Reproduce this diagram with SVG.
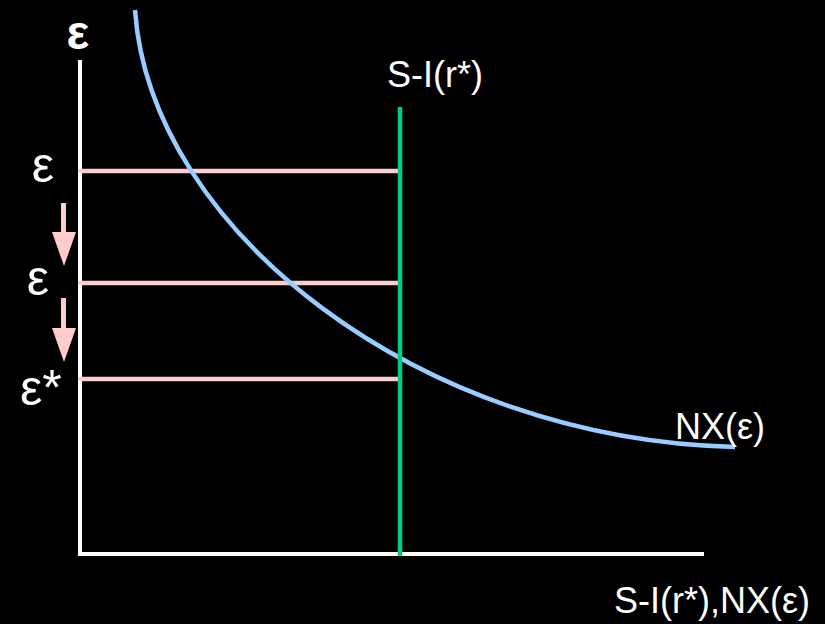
<svg xmlns="http://www.w3.org/2000/svg" width="825" height="624" viewBox="0 0 825 624">
<style>
.lbl{font-family:"Liberation Sans",Arial,sans-serif;fill:#ffffff}
.axis{stroke:#ffffff;stroke-width:4;fill:none}
.lvl{stroke:#ffcccc;stroke-width:4.5;stroke-linecap:round;fill:none}
.arr{fill:#ffcccc}
</style>
<rect width="825" height="624" fill="#000000"/>
<g id="axes">
<line class="axis" x1="80" y1="60" x2="80" y2="556"/>
<line class="axis" x1="78" y1="554" x2="704" y2="554"/>
</g>
<g id="connectors">
<line class="lvl" x1="80" y1="171" x2="400" y2="171"/>
<line class="lvl" x1="80" y1="283" x2="400" y2="283"/>
<line class="lvl" x1="80" y1="379" x2="400" y2="379"/>
</g>
<g id="nx-curve">
<path d="M135,10 C150,230 420,440 735,447" fill="none" stroke="#99ccff" stroke-width="4.5"/>
</g>
<g id="si-line">
<line x1="400" y1="107" x2="400" y2="556" stroke="#00cc88" stroke-width="4.5"/>
</g>
<g id="arrow1">
<rect class="arr" x="61" y="203" width="5" height="30"/>
<polygon class="arr" points="52,232 76,232 64,266"/>
</g>
<g id="arrow2">
<rect class="arr" x="61" y="298" width="5" height="31"/>
<polygon class="arr" points="52,328 76,328 64,362"/>
</g>
<g id="labels">
<text class="lbl" x="78" y="49" font-size="48" font-weight="bold" text-anchor="middle">ε</text>
<text class="lbl" x="43" y="182" font-size="50" text-anchor="middle">ε</text>
<text class="lbl" x="38" y="295" font-size="50" text-anchor="middle">ε</text>
<text class="lbl" x="20" y="405" font-size="50">ε*</text>
<text class="lbl" x="387" y="87" font-size="36">S-I(r*)</text>
<text class="lbl" x="675" y="439" font-size="36">NX(ε)</text>
<text class="lbl" x="810" y="613" font-size="36" text-anchor="end">S-I(r*),NX(ε)</text>
</g>
</svg>
